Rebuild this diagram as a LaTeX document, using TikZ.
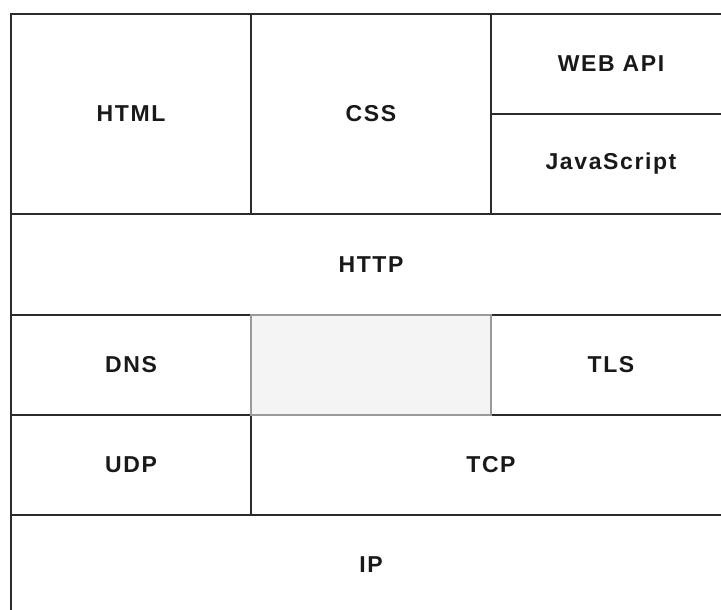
\documentclass[tikz,border=0pt]{standalone}
\usepackage{fontspec}
\newfontfamily\lbl{Liberation Sans}[LetterSpace=7]
\definecolor{edge}{HTML}{2B2B2B}
\definecolor{blankfill}{HTML}{F4F4F4}
\definecolor{blankedge}{HTML}{9A9A9A}
\tikzset{
  cell/.style={draw=edge, line width=1.6pt, rectangle, inner sep=0pt,
    font=\lbl\bfseries\fontsize{23}{26}\selectfont, text=black!90},
  blankcell/.style={draw=blankedge, fill=blankfill, line width=1.3pt, rectangle, inner sep=0pt},
}
\begin{document}
\begin{tikzpicture}[x=1pt, y=-1pt]
  \useasboundingbox (0,0) rectangle (721,610);
  \fill[white] (0,0) rectangle (721,610);
  \clip (0,0) rectangle (721,610);
  % application layer
  \node[cell, minimum width=240pt, minimum height=200pt] (html) at (131,114) {HTML};
  \node[cell, minimum width=240pt, minimum height=200pt] (css) at (371,114) {CSS};
  \node[cell, minimum width=240pt, minimum height=100pt] (webapi) at (611,64) {WEB API};
  \node[cell, minimum width=240pt, minimum height=100pt] (js) at (611,164) {JavaScript};
  % protocols
  \node[cell, minimum width=720pt, minimum height=101pt] (http) at (371,264.5) {HTTP};
  \node[cell, minimum width=240pt, minimum height=100pt] (dns) at (131,365) {DNS};
  \node[cell, minimum width=240pt, minimum height=100pt] (tls) at (611,365) {TLS};
  \node[cell, minimum width=240pt, minimum height=100pt] (udp) at (131,465) {UDP};
  \node[cell, minimum width=480pt, minimum height=100pt] (tcp) at (491,465) {TCP};
  \node[cell, minimum width=720pt, minimum height=100pt] (ip) at (371,565) {IP};
  % empty slot between DNS and TLS
  \node[blankcell, minimum width=240pt, minimum height=100pt] (gap) at (371,365) {};
\end{tikzpicture}
\end{document}
